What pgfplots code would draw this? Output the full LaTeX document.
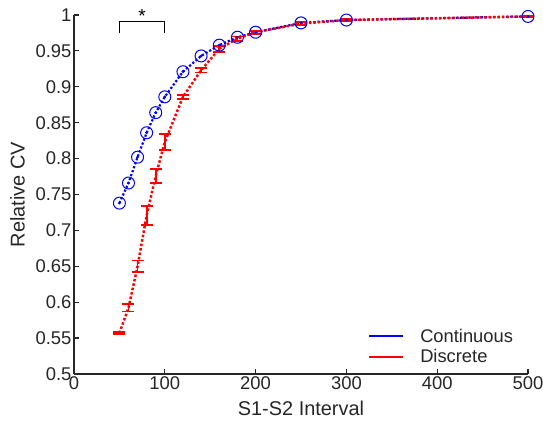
\documentclass[border=0pt]{standalone}
\usepackage{pgfplots}
\pgfplotsset{compat=1.18}
\usepackage{fontspec}
\setmainfont{Liberation Sans}
\definecolor{axgray}{HTML}{262626}
\definecolor{mblue}{HTML}{0000FF}
\definecolor{mred}{HTML}{FF0000}
\begin{document}
\begin{tikzpicture}
\begin{axis}[
  name=ax,
  at={(0,0)}, anchor=south west,
  scale only axis,
  width=454bp, height=359bp,
  xmin=0, xmax=500, ymin=0.5, ymax=1,
  axis x line*=bottom, axis y line*=left,
  axis line style={axgray, line width=1.6bp, -},
  xtick={0,100,200,300,400,500},
  ytick={0.5,0.55,0.6,0.65,0.7,0.75,0.8,0.85,0.9,0.95,1},
  yticklabels={0.5,0.55,0.6,0.65,0.7,0.75,0.8,0.85,0.9,0.95,1},
  xticklabels={0,100,200,300,400,500},
  tick align=inside,
  major tick length=5bp,
  tick style={axgray, line width=1.2bp},
  ticklabel style={font=\fontsize{18.5}{20}\selectfont, text=axgray},
  yticklabel style={xshift=1bp},
  xticklabel style={yshift=1bp},
  label style={font=\fontsize{20}{22}\selectfont, text=axgray},
  xlabel={S1-S2 Interval}, ylabel={Relative CV},
  xlabel style={at={(axis description cs:0.5,0)}, anchor=center, yshift=-34bp},
  ylabel style={at={(axis description cs:0,0.5)}, anchor=center, xshift=0bp, yshift=56.5bp},
  legend style={draw=none, fill=none, at={(1,0)}, anchor=south east,
    xshift=-12bp, yshift=7bp, inner sep=0pt,
    nodes={inner sep=2.8bp},
    font=\fontsize{18.4}{20}\selectfont, text=axgray, row sep=0bp},
  legend cell align=left,
  legend image code/.code={\draw[line width=2bp] (0bp,0bp) -- (34bp,0bp);
    \path[draw=none, fill=none] (0bp,0bp) -- (48bp,0bp);},
  clip=false,
]
\addlegendimage{mblue}
\addlegendentry{Continuous}
\addlegendimage{mred}
\addlegendentry{Discrete}

\addplot[mblue, line width=2.2bp, dotted, mark=o, mark size=6bp,
  mark options={solid, line width=1bp}] coordinates {
  (50,0.738) (60,0.766) (70,0.802) (80,0.836) (90,0.864) (100,0.886)
  (120,0.921) (140,0.943) (160,0.958) (180,0.969) (200,0.976)
  (250,0.989) (300,0.993) (500,0.998)};
\addplot[mblue, only marks, mark=*, mark size=1.2bp] coordinates {
  (50,0.738) (60,0.766) (70,0.802) (80,0.836) (90,0.864) (100,0.886)
  (120,0.921) (140,0.943) (160,0.958) (180,0.969) (200,0.976)
  (250,0.989) (300,0.993) (500,0.998)};

\addplot[mred, line width=2.5bp, dotted, mark=none,
  error bars/.cd, y dir=both, y explicit,
  error bar style={solid, line width=1.8bp},
  error mark options={solid, rotate=90, mark size=6bp, line width=1.8bp}]
  coordinates {
  (50,0.557) +- (0,0.001)
  (60,0.592) +- (0,0.005)
  (70,0.650) +- (0,0.008)
  (80,0.721) +- (0,0.013)
  (90,0.776) +- (0,0.010)
  (100,0.823) +- (0,0.011)
  (120,0.886) +- (0,0.003)
  (140,0.923) +- (0,0.003)
  (160,0.953) +- (0,0.004)
  (180,0.967) +- (0,0.003)
  (200,0.976) +- (0,0.002)
  (250,0.988) +- (0,0.002)
  (300,0.993) +- (0,0.001)
  (500,0.998) +- (0,0.001)};

\draw[black, line width=1.4bp] (axis cs:50,0.975) -- (axis cs:50,0.991) -- (axis cs:100,0.991) -- (axis cs:100,0.975);
\node[font=\fontsize{19}{20}\selectfont] at (axis cs:75,0.999) {*};
\end{axis}
\pgfresetboundingbox
\useasboundingbox (-74bp,-49bp) rectangle (469bp,374bp);
\end{tikzpicture}
\end{document}
